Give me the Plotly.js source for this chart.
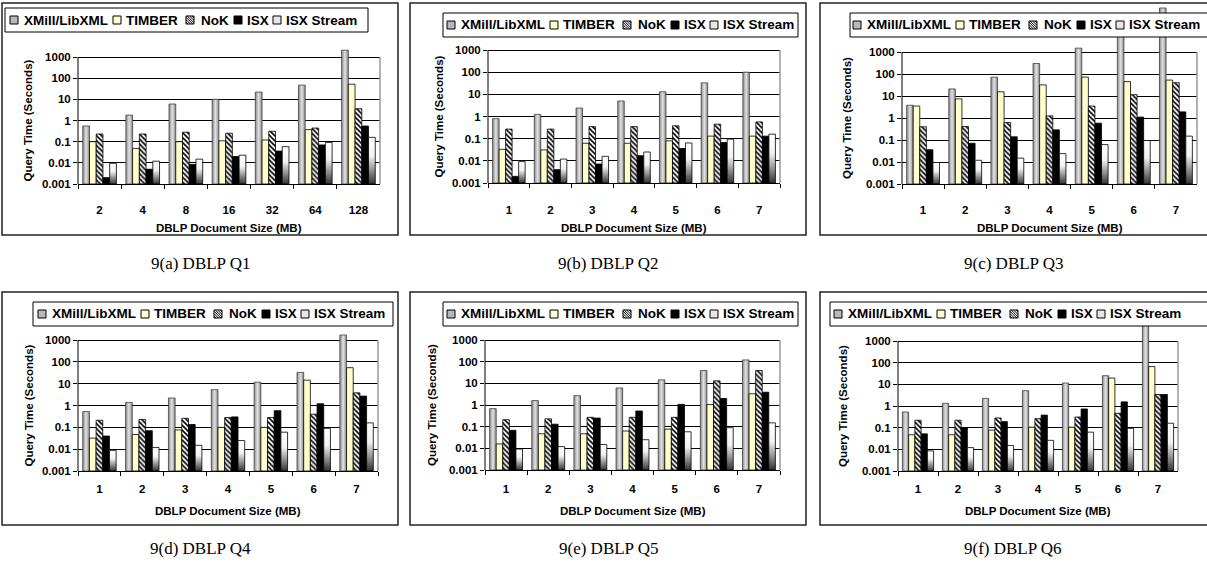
<!DOCTYPE html>
<html><head><meta charset="utf-8">
<script src="https://cdn.plot.ly/plotly-3.0.1.min.js"></script>
<style>html,body{margin:0;padding:0;background:#fff}#chart{width:1207px;height:566px}</style>
</head><body><div id="chart"></div>
<script>
// ---------------- DATA ----------------
const seriesNames = ["XMill/LibXML", "TIMBER", "NoK", "ISX", "ISX Stream"];
const sizesQ1 = ["2", "4", "8", "16", "32", "64", "128"];
const sizesQ2toQ6 = ["1", "2", "3", "4", "5", "6", "7"];
const captionTexts = ["9(a) DBLP Q1", "9(b) DBLP Q2", "9(c) DBLP Q3", "9(d) DBLP Q4", "9(e) DBLP Q5", "9(f) DBLP Q6"];
const xTitleText = "DBLP Document Size (MB)";
const yTitleText = "Query Time (Seconds)";
const yTickVals = [0.001, 0.01, 0.1, 1, 10, 100, 1000];
const yTickText = ["0.001", "0.01", "0.1", "1", "10", "100", "1000"];

// Q1
const q1XMill  = [0.55, 1.8, 6.0, 10, 22, 47, 2100];
const q1Timber = [0.1, 0.048, 0.1, 0.11, 0.12, 0.37, 52];
const q1NoK    = [0.23, 0.23, 0.28, 0.25, 0.31, 0.44, 3.6];
const q1ISX    = [0.002, 0.005, 0.0085, 0.02, 0.036, 0.07, 0.55];
const q1Stream = [0.0095, 0.012, 0.015, 0.023, 0.058, 0.092, 0.16];
// Q2
const q2XMill  = [0.8, 1.25, 2.4, 5.0, 13, 33, 100];
const q2Timber = [0.033, 0.031, 0.062, 0.062, 0.08, 0.13, 0.13];
const q2NoK    = [0.27, 0.27, 0.35, 0.35, 0.38, 0.45, 0.57];
const q2ISX    = [0.002, 0.004, 0.0072, 0.017, 0.036, 0.067, 0.13];
const q2Stream = [0.0092, 0.012, 0.016, 0.025, 0.064, 0.095, 0.16];
// Q3
const q3XMill  = [3.8, 21, 72, 300, 1500, 35000, 100000];
const q3Timber = [3.5, 7.4, 15.5, 32, 72, 45, 53];
const q3NoK    = [0.4, 0.41, 0.62, 1.25, 3.5, 11.5, 40];
const q3ISX    = [0.036, 0.071, 0.14, 0.29, 0.58, 1.1, 1.9];
const q3Stream = [0.0095, 0.012, 0.015, 0.024, 0.062, 0.095, 0.15];
// Q4
const q4XMill  = [0.53, 1.38, 2.2, 5.3, 11.7, 33, 1700];
const q4Timber = [0.032, 0.047, 0.076, 0.1, 0.1, 14.5, 54];
const q4NoK    = [0.21, 0.23, 0.26, 0.28, 0.28, 0.4, 3.8];
const q4ISX    = [0.04, 0.07, 0.135, 0.3, 0.58, 1.2, 2.7];
const q4Stream = [0.0088, 0.012, 0.015, 0.025, 0.06, 0.09, 0.16];
// Q5
const q5XMill  = [0.68, 1.6, 2.7, 6.1, 14.5, 39, 120];
const q5Timber = [0.016, 0.047, 0.047, 0.063, 0.077, 1.05, 3.3];
const q5NoK    = [0.21, 0.23, 0.27, 0.27, 0.27, 13, 39];
const q5ISX    = [0.068, 0.13, 0.25, 0.53, 1.07, 2.0, 3.9];
const q5Stream = [0.0093, 0.012, 0.015, 0.025, 0.058, 0.09, 0.15];
// Q6
const q6XMill  = [0.53, 1.32, 2.25, 5.1, 11.5, 25, 7500];
const q6Timber = [0.047, 0.047, 0.077, 0.105, 0.105, 19.5, 66];
const q6NoK    = [0.22, 0.22, 0.28, 0.26, 0.31, 0.46, 3.4];
const q6ISX    = [0.052, 0.1, 0.19, 0.38, 0.73, 1.55, 3.4];
const q6Stream = [0.0085, 0.012, 0.015, 0.026, 0.062, 0.093, 0.16];

// ---------------- LAYOUT PARAMETERS (pixels) ----------------
const W = 1207, H = 566;
const panels = [
  {cats: sizesQ1,      vals: [q1XMill, q1Timber, q1NoK, q1ISX, q1Stream], box: [2, 3, 398, 235],   leg: [5, 8, 368, 32],     sw0: 10,  L: 78,  R: 380,  y1000: 57,  y001: 184, ytop: 33,  yTitleX: 28,  xTitleY: 228, capX: 200,  capY: 263, lblStand: 15},
  {cats: sizesQ2toQ6,  vals: [q2XMill, q2Timber, q2NoK, q2ISX, q2Stream], box: [410, 3, 806, 235], leg: [443, 13, 798, 37],  sw0: 447, L: 488, R: 780,  y1000: 50,  y001: 183, ytop: 37,  yTitleX: 438, xTitleY: 228, capX: 608,  capY: 263, lblStand: 16},
  {cats: sizesQ2toQ6,  vals: [q3XMill, q3Timber, q3NoK, q3ISX, q3Stream], box: [820, 3, 1212, 235],leg: [850, 13, 1212, 37], sw0: 853, L: 902, R: 1197, y1000: 52,  y001: 184, ytop: 3,   yTitleX: 847, xTitleY: 228, capX: 1013, capY: 263, lblStand: 15},
  {cats: sizesQ2toQ6,  vals: [q4XMill, q4Timber, q4NoK, q4ISX, q4Stream], box: [2, 292, 398, 525], leg: [33, 302, 393, 326], sw0: 38,  L: 78,  R: 378,  y1000: 340, y001: 471, ytop: 326, yTitleX: 28,  xTitleY: 511, capX: 200,  capY: 548, lblStand: 7},
  {cats: sizesQ2toQ6,  vals: [q5XMill, q5Timber, q5NoK, q5ISX, q5Stream], box: [410, 292, 806, 525],leg: [443, 302, 798, 326],sw0: 447, L: 485, R: 780,  y1000: 340, y001: 470, ytop: 326, yTitleX: 432, xTitleY: 511, capX: 608,  capY: 548, lblStand: 8},
  {cats: sizesQ2toQ6,  vals: [q6XMill, q6Timber, q6NoK, q6ISX, q6Stream], box: [820, 292, 1212, 525],leg: [830, 302, 1212, 326],sw0: 834, L: 898, R: 1178, y1000: 341, y001: 471, ytop: 326, yTitleX: 843, xTitleY: 511, capX: 1013, capY: 548, lblStand: 7}
];
const swatchOffsets = [0, 103, 176, 224, 263];
const textOffsets = [13, 115, 190, 236, 275];

const FONT = "Liberation Sans, Arial, sans-serif";
const px = x => x / W;
const py = y => 1 - y / H;

const markerStyles = [
  {color: "#b8b8b8", line: {color: "#404040", width: 0.8}},
  {color: "#ffffcc", line: {color: "#000000", width: 0.8}},
  {color: "#ffffff", pattern: {shape: "\\", fgcolor: "#000000", bgcolor: "#ffffff", size: 3.5, solidity: 0.45}, line: {color: "#000000", width: 0.8}},
  {color: "#000000", line: {color: "#000000", width: 0.8}},
  {color: "#dcdcdc", line: {color: "#000000", width: 0.8}}
];
const swatchFill = ["#b8b8b8", "#ffffcc", "#ffffff", "#000000", "#e6e6e6"];

const data = [];
const layout = {
  width: W, height: H,
  margin: {l: 0, r: 0, t: 0, b: 0},
  paper_bgcolor: "#ffffff", plot_bgcolor: "#ffffff",
  showlegend: false, barmode: "group", bargap: 0.22, bargroupgap: 0,
  font: {family: FONT, color: "#000"},
  shapes: [], annotations: []
};

panels.forEach((p, i) => {
  const k = i === 0 ? "" : String(i + 1);
  const decade = (p.y001 - p.y1000) / 6;
  const top = 3 + (p.y1000 - p.ytop) / decade;
  const frac1000 = 6 / (top + 3);

  seriesNames.forEach((name, s) => {
    data.push({
      type: "bar", name: name, x: p.cats, y: p.vals[s],
      xaxis: "x" + k, yaxis: "y" + k,
      marker: markerStyles[s], showlegend: false, hoverinfo: "skip"
    });
  });

  layout["xaxis" + k] = {
    domain: [px(p.L), px(p.R)], anchor: "y" + k, type: "category",
    tickson: "boundaries", ticks: "outside", ticklen: 4, tickcolor: "#000", tickwidth: 1,
    showline: true, linecolor: "#000", linewidth: 1, showgrid: false, zeroline: false,
    ticklabelstandoff: p.lblStand,
    tickfont: {family: FONT, size: 11.5, color: "#000", weight: "bold"}, fixedrange: true
  };
  layout["yaxis" + k] = {
    domain: [py(p.y001), py(p.ytop)], anchor: "x" + k, type: "log", range: [-3, top],
    tickvals: yTickVals, ticktext: yTickText,
    ticks: "outside", ticklen: 4, tickcolor: "#000", tickwidth: 1,
    showline: false, showgrid: true, gridcolor: "#000", gridwidth: 1, zeroline: false,
    tickfont: {family: FONT, size: 11.5, color: "#000", weight: "bold"}, fixedrange: true
  };

  // plot-area left axis line and grey right border (only up to 1000)
  layout.shapes.push({type: "line", xref: "x" + k + " domain", yref: "y" + k + " domain", x0: 0, x1: 0, y0: 0, y1: frac1000, line: {color: "#000", width: 1}});
  layout.shapes.push({type: "line", xref: "x" + k + " domain", yref: "y" + k + " domain", x0: 1, x1: 1, y0: 0, y1: frac1000, line: {color: "#9a9a9a", width: 1.5}});

  // panel border
  layout.shapes.push({type: "rect", xref: "paper", yref: "paper", x0: px(p.box[0]), x1: px(p.box[2]), y0: py(p.box[1]), y1: py(p.box[3]), line: {color: "#222", width: 1.5}, fillcolor: "rgba(0,0,0,0)"});
  // legend box
  layout.shapes.push({type: "rect", xref: "paper", yref: "paper", x0: px(p.leg[0]), x1: px(p.leg[2]), y0: py(p.leg[1]), y1: py(p.leg[3]), line: {color: "#000", width: 1}, fillcolor: "#ffffff"});
  const cy = (p.leg[1] + p.leg[3]) / 2;
  seriesNames.forEach((name, s) => {
    const sx = p.sw0 + swatchOffsets[s];
    const sy = cy - 4;
    layout.shapes.push({type: "rect", xref: "paper", yref: "paper", x0: px(sx), x1: px(sx + 8), y0: py(sy), y1: py(sy + 8), line: {color: "#000", width: 1}, fillcolor: swatchFill[s]});
    if (s === 2) {
      let path = "";
      for (let d = -6; d <= 6; d += 2.4) {
        const xa = Math.max(0, d), xb = Math.min(8, 8 + d);
        path += "M" + px(sx + xa) + "," + py(sy + xa - d) + "L" + px(sx + xb) + "," + py(sy + xb - d);
      }
      layout.shapes.push({type: "path", xref: "paper", yref: "paper", path: path, line: {color: "#000", width: 1}});
    }
    layout.annotations.push({xref: "paper", yref: "paper", x: px(p.sw0 + textOffsets[s]), y: py(cy), xanchor: "left", yanchor: "middle", showarrow: false, text: "<b>" + name + "</b>", font: {family: FONT, size: 13.5, color: "#000"}, borderpad: 0});
  });

  // axis titles
  layout.annotations.push({xref: "paper", yref: "paper", x: px(p.yTitleX), y: py((p.y1000 + p.y001) / 2), xanchor: "center", yanchor: "middle", textangle: -90, showarrow: false, text: "<b>" + yTitleText + "</b>", font: {family: FONT, size: 11.5, color: "#000"}});
  layout.annotations.push({xref: "paper", yref: "paper", x: px((p.L + p.R) / 2), y: py(p.xTitleY), xanchor: "center", yanchor: "middle", showarrow: false, text: "<b>" + xTitleText + "</b>", font: {family: FONT, size: 11.5, color: "#000"}});
  // caption
  layout.annotations.push({xref: "paper", yref: "paper", x: px(p.capX), y: py(p.capY), xanchor: "center", yanchor: "middle", showarrow: false, text: captionTexts[i], font: {family: "Liberation Serif, Times New Roman, serif", size: 17, color: "#000"}});
});

function shadeBars(gd) {
  try {
    const svg = gd.querySelector("svg.main-svg");
    const ns = "http://www.w3.org/2000/svg";
    let defs = svg.querySelector("defs");
    if (!defs) { defs = document.createElementNS(ns, "defs"); svg.insertBefore(defs, svg.firstChild); }
    function grad(id, x2, y2, stops) {
      const g = document.createElementNS(ns, "linearGradient");
      g.setAttribute("id", id); g.setAttribute("x1", "0"); g.setAttribute("y1", "0");
      g.setAttribute("x2", x2); g.setAttribute("y2", y2);
      stops.forEach(([o, c]) => {
        const st = document.createElementNS(ns, "stop");
        st.setAttribute("offset", o); st.setAttribute("stop-color", c);
        g.appendChild(st);
      });
      defs.appendChild(g);
    }
    grad("gradXMill", "1", "0", [["0", "#8a8a8a"], ["0.5", "#e2e2e2"], ["1", "#8a8a8a"]]);
    grad("gradStream", "0", "1", [["0", "#ffffff"], ["0.4", "#f2f2f2"], ["1", "#333333"]]);
    const groups = gd.querySelectorAll("g.trace.bars");
    groups.forEach((g, idx) => {
      const cd = g.__data__;
      const tr = (cd && cd[0] && cd[0].trace) || gd._fullData[idx];
      if (!tr) return;
      const ya = gd._fullLayout[tr.yaxis === "y" ? "yaxis" : "yaxis" + tr.yaxis.slice(1)];
      const bottom = ya ? ya._length : null;
      let fill = null;
      if (tr.name === seriesNames[0]) fill = "url(#gradXMill)";
      if (tr.name === seriesNames[4]) fill = "url(#gradStream)";
      g.querySelectorAll("path").forEach(el => {
        // keep the bar's box within the plot so the shading spans only the visible bar
        const d = el.getAttribute("d");
        const m = d && d.match(/^M([-\d.e]+),([-\d.e]+)V([-\d.e]+)H([-\d.e]+)V([-\d.e]+)Z$/);
        if (m && bottom !== null) {
          const yb = Math.min(parseFloat(m[2]), bottom);
          el.setAttribute("d", "M" + m[1] + "," + yb + "V" + m[3] + "H" + m[4] + "V" + yb + "Z");
        }
        if (fill) el.style.fill = fill;
      });
    });
  } catch (e) { console.log(e); }
}

Plotly.newPlot("chart", data, layout, {staticPlot: true, displayModeBar: false}).then(shadeBars);
</script>
</body></html>
